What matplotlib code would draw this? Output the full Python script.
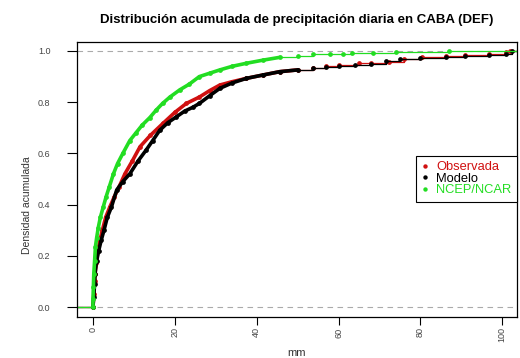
import matplotlib
matplotlib.use('Agg')
import matplotlib.pyplot as plt
import numpy as np

plt.rcParams['font.family'] = ['Liberation Sans', 'DejaVu Sans']

# valores (mm, densidad acumulada)
obs_x = [0, 0.2, 0.4, 0.5, 0.8, 1.2, 1.7, 2.3, 3.1, 4.1, 5.2, 6.4, 7.8, 9.6, 11.5,
         14.0, 17.1, 20.0, 22.8, 26.0, 28.5, 31.0, 34.0, 37.5, 41.5, 45.6, 50.0,
         53.7, 57.0, 60.0, 65.0, 68.0, 72.4, 76.0, 80.5, 86.3, 91.0, 96.8, 101.0, 102.0]
obs_y = [0.0, 0.05, 0.10, 0.13, 0.17, 0.22, 0.26, 0.30, 0.35, 0.39, 0.43, 0.47, 0.52,
         0.57, 0.626, 0.67, 0.717, 0.76, 0.795, 0.82, 0.845, 0.867, 0.88, 0.893, 0.906,
         0.919, 0.926, 0.932, 0.94, 0.945, 0.953, 0.953, 0.958, 0.967, 0.975, 0.98,
         0.984, 0.99, 0.995, 1.0]

mod_x = [0, 0.2, 0.4, 0.5, 0.9, 1.4, 2.0, 2.7, 3.5, 4.5, 5.8, 7.3, 9.0, 11.0, 13.0,
         14.6, 16.3, 18.3, 20.4, 22.4, 24.4, 26.0, 28.5, 31.0, 34.0, 37.5, 41.5, 45.6,
         50.0, 53.7, 57.0, 60.0, 64.0, 68.0, 71.5, 75.0, 80.0, 86.3, 91.0, 96.8, 101.0, 102.5]
mod_y = [0.0, 0.04, 0.09, 0.13, 0.18, 0.22, 0.26, 0.30, 0.35, 0.39, 0.457, 0.49, 0.52,
         0.57, 0.613, 0.65, 0.69, 0.72, 0.743, 0.765, 0.78, 0.795, 0.825, 0.854, 0.875,
         0.893, 0.906, 0.919, 0.926, 0.932, 0.936, 0.94, 0.945, 0.95, 0.96, 0.968, 0.972,
         0.977, 0.982, 0.985, 0.99, 1.0]

ncep_x = [0, 0, 0.1, 0.2, 0.4, 0.6, 0.9, 1.3, 1.8, 2.5, 3.2, 4.0, 5.0, 6.0, 7.3, 9.0,
          10.5, 12.0, 13.9, 15.5, 17.0, 18.8, 21.2, 23.5, 26.0, 28.5, 31.0, 34.0, 37.5,
          41.5, 45.6, 50.0, 53.7, 58.0, 61.0, 63.4, 68.3, 74.0, 87.0]
ncep_y = [0.0, 0.03, 0.08, 0.13, 0.18, 0.235, 0.27, 0.31, 0.35, 0.39, 0.43, 0.47, 0.52,
          0.56, 0.60, 0.65, 0.68, 0.71, 0.74, 0.77, 0.795, 0.82, 0.848, 0.87, 0.90, 0.913,
          0.926, 0.94, 0.952, 0.964, 0.975, 0.982, 0.988, 0.99, 0.99, 0.991, 0.992, 0.994, 1.0]

# (nombre, x, y, color, mm donde los puntos dejan de formar una banda continua)
series = [
    ('Observada', obs_x, obs_y, '#d01010', 50),
    ('Modelo', mod_x, mod_y, 'black', 50),
    ('NCEP/NCAR', ncep_x, ncep_y, '#22dd22', 46),
]

fig = plt.figure(figsize=(5.2, 3.58), dpi=100)
ax = fig.add_axes([77 / 520, 1 - 317 / 358, 440 / 520, 275 / 358])
xmin, xmax = -3.9, 103.6

ax.axhline(0, color='#aaaaaa', ls=(0, (5, 4)), lw=0.8, zorder=0)
ax.axhline(1, color='#aaaaaa', ls=(0, (5, 4)), lw=0.8, zorder=0)

for nombre, xs, ys, col, corte in series:
    xs = np.array(xs)
    ys = np.array(ys)
    denso = xs <= corte
    n = denso.sum()
    ax.plot(xs[:n], ys[:n], color=col, lw=2.6, solid_capstyle='round')
    ax.step(xs[n - 1:], ys[n - 1:], where='post', color=col, lw=0.9)
    ax.hlines(0, xmin, xs[0], color=col, lw=0.9)
    ax.hlines(ys[-1], xs[-1], xmax, color=col, lw=0.9)
    ax.plot(xs, ys, 'o', color=col, ms=2.4, mec=col, label=nombre)

ax.set_xlim(xmin, xmax)
ax.set_ylim(-0.039, 1.035)
ax.set_xticks([0, 20, 40, 60, 80, 100])
ax.set_yticks([0.0, 0.2, 0.4, 0.6, 0.8, 1.0])
ax.set_yticklabels(['0.0', '0.2', '0.4', '0.6', '0.8', '1.0'])
ax.tick_params(axis='x', labelrotation=90, length=6, pad=1.5, labelsize=6.5, labelcolor='#444444')
ax.tick_params(axis='y', length=7, pad=12, labelsize=6.5, labelcolor='#444444')
for s in ax.spines.values():
    s.set_linewidth(0.9)

fig.text(297 / 520, 1 - 20 / 358, 'Distribución acumulada de precipitación diaria en CABA (DEF)',
         ha='center', va='center', fontsize=9.5, fontweight='bold')
fig.text(297 / 520, 1 - 353 / 358, 'mm', ha='center', va='center', fontsize=8, color='#333333')
fig.text(27 / 520, 1 - 205 / 358, 'Densidad acumulada', ha='center', va='center',
         rotation=90, fontsize=7.5, color='#333333')

leg = ax.legend(loc='upper right', bbox_to_anchor=(1.0, 0.587), borderaxespad=0,
                fancybox=False, edgecolor='black', framealpha=1, fontsize=9.3,
                handlelength=0.5, handletextpad=0.6, labelspacing=-0.05, borderpad=0.45,
                markerscale=0.9)
leg.get_frame().set_linewidth(0.8)
for txt, serie in zip(leg.get_texts(), series):
    txt.set_color(serie[3])

fig.savefig('out.png', dpi=100)
